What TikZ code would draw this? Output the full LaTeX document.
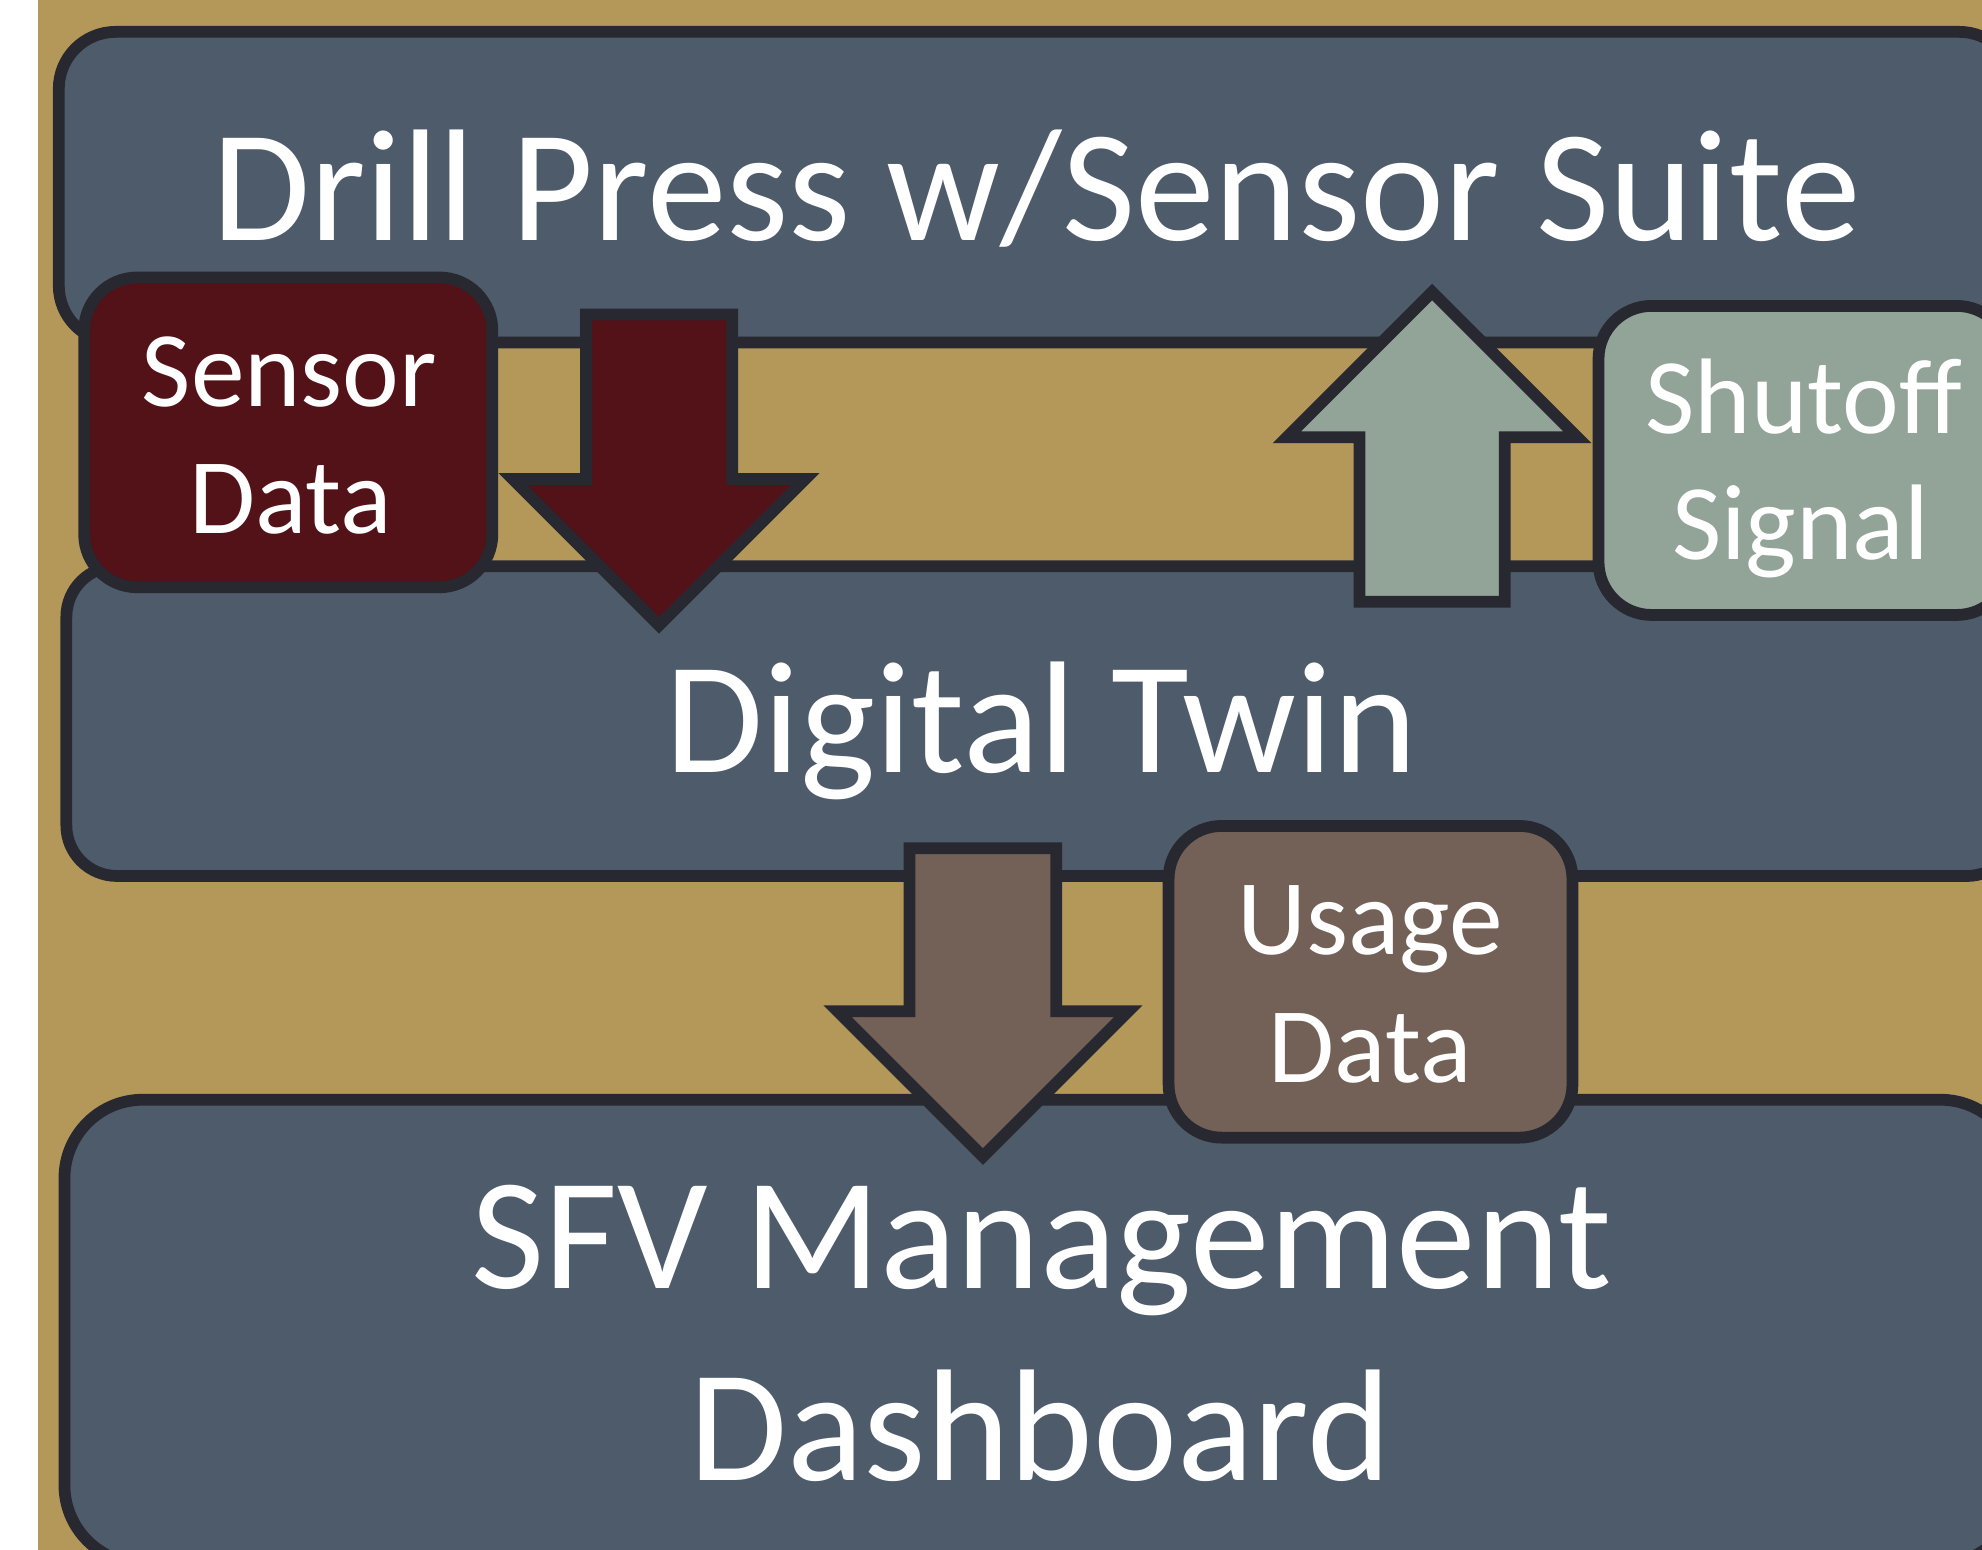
\documentclass[tikz,border=0pt]{standalone}
\usepackage{fontspec}
\setmainfont{Carlito}
\definecolor{gold}{HTML}{B4985A}
\definecolor{slate}{HTML}{4D5B6B}
\definecolor{edge}{HTML}{282830}
\definecolor{wine}{HTML}{521217}
\definecolor{sage}{HTML}{92A398}
\definecolor{umber}{HTML}{736157}
\tikzset{
  panel/.style={draw=edge, line width=9.3pt, fill=slate},
  tag/.style={draw=edge, line width=9.3pt, rounded corners=42pt},
  blockarrow/.style={draw=edge, line width=9.3pt, line join=miter},
  bigtext/.style={text=white, anchor=base, inner sep=0pt, font=\fontsize{126}{126}\selectfont},
  smalltext/.style={text=white, anchor=base, inner sep=0pt, font=\fontsize{85}{85}\selectfont},
}
\begin{document}
\begin{tikzpicture}[x=1pt, y=-1pt]
\useasboundingbox (0,0) rectangle (1568,1226);
\clip (0,0) rectangle (1568,1226);
% backdrop
\fill[white] (0,0) rectangle (30,1226);
\fill[gold] (30,0) rectangle (1568,1226);

% three stacked panels
\draw[panel, rounded corners=45pt] (46.5,25.2) rectangle (1595,271);
\draw[panel, rounded corners=40pt] (52.5,448) rectangle (1596,693);
\draw[panel, rounded corners=62pt] (51,870) rectangle (1597,1237);

% sensor data arrow (down)
\draw[blockarrow, fill=wine]
  (463.6,248.8) -- (579.2,248.8) -- (579.2,379) -- (637.1,379) -- (521.4,494.7)
  -- (405.7,379) -- (463.6,379) -- cycle;
\draw[tag, fill=wine] (66.6,219.5) rectangle (389.5,464.6);

% shutoff signal arrow (up)
\draw[blockarrow, fill=sage]
  (1075.6,476) -- (1190.4,476) -- (1190.4,346) -- (1248,346) -- (1133,231)
  -- (1018,346) -- (1075.6,346) -- cycle;
\draw[tag, fill=sage] (1264.6,242) rectangle (1590,486.5);

% usage data arrow (down)
\draw[blockarrow, fill=umber]
  (719.6,671) -- (835.6,671) -- (835.6,800) -- (892.6,800) -- (777.6,915)
  -- (662.6,800) -- (719.6,800) -- cycle;
\draw[tag, fill=umber] (924.5,653.4) rectangle (1244,900);

% labels
\node[bigtext] (drill) at (820,190) {Drill Press w/Sensor Suite};
\node[bigtext] (twin) at (824,611) {Digital Twin};
\node[bigtext] (sfv) at (824,1019) {SFV Management};
\node[bigtext] (dash) at (823,1171) {Dashboard};

\node[smalltext] (sensorA) at (229,321.7) {Sensor};
\node[smalltext] (sensorB) at (230,422) {Data};
\node[smalltext] (shutA) at (1427,343) {Shutoff};
\node[smalltext] (shutB) at (1424.5,443) {Signal};
\node[smalltext] (usageA) at (1084,755.5) {Usage};
\node[smalltext] (usageB) at (1084,856.5) {Data};
\end{tikzpicture}
\end{document}
